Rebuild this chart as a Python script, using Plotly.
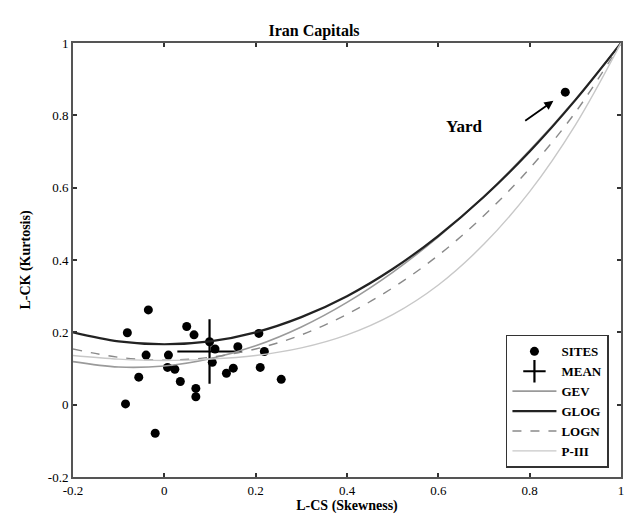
import plotly.graph_objects as go

# ---- data ----
site_cs = [-0.035, -0.081, 0.049, 0.065, 0.099, 0.111, 0.161, 0.207, 0.219, -0.040,
           0.009, 0.105, 0.007, 0.023, -0.056, 0.035, 0.069, 0.069, 0.136, 0.151,
           0.210, 0.256, -0.085, -0.020, 0.878]
site_ck = [0.262, 0.199, 0.216, 0.193, 0.174, 0.154, 0.160, 0.197, 0.147, 0.137,
           0.137, 0.117, 0.103, 0.098, 0.076, 0.064, 0.045, 0.022, 0.087, 0.101,
           0.103, 0.070, 0.002, -0.079, 0.864]
mean_cs = [0.099]
mean_ck = [0.147]

tau3 = [-0.2, -0.1, 0.0, 0.1, 0.2, 0.3, 0.4, 0.5, 0.6, 0.7, 0.8, 0.9, 1.0]
gev = [0.119, 0.104, 0.107, 0.127, 0.163, 0.215, 0.283, 0.366, 0.464, 0.576, 0.703, 0.844, 1.0]
glog = [0.200, 0.175, 0.167, 0.175, 0.200, 0.242, 0.300, 0.375, 0.467, 0.575, 0.700, 0.842, 1.0]
logn = [0.154, 0.131, 0.123, 0.131, 0.154, 0.193, 0.250, 0.323, 0.413, 0.523, 0.653, 0.808, 1.0]
p3 = [0.136, 0.126, 0.122, 0.126, 0.136, 0.157, 0.193, 0.249, 0.331, 0.444, 0.589, 0.773, 1.0]

tick_vals = [-0.2, 0, 0.2, 0.4, 0.6, 0.8, 1]
tick_text = ["-0.2", "0", "0.2", "0.4", "0.6", "0.8", "1"]

FONT = "Liberation Serif"

fig = go.Figure()
fig.add_trace(go.Scatter(x=site_cs, y=site_ck, mode="markers", name="<b>SITES</b>",
                         marker=dict(color="black", size=9, symbol="circle")))
fig.add_trace(go.Scatter(x=mean_cs, y=mean_ck, mode="markers", name="<b>MEAN</b>",
                         marker=dict(color="black", size=46, symbol="cross-thin",
                                     line=dict(color="black", width=2.2))))
fig.add_trace(go.Scatter(x=tau3, y=gev, mode="lines", name="<b>GEV</b>", line_shape="spline",
                         line=dict(color="#9a9a9a", width=1.6)))
fig.add_trace(go.Scatter(x=tau3, y=glog, mode="lines", name="<b>GLOG</b>", line_shape="spline",
                         line=dict(color="#222222", width=2.2)))
fig.add_trace(go.Scatter(x=tau3, y=logn, mode="lines", name="<b>LOGN</b>", line_shape="spline",
                         line=dict(color="#8a8a8a", width=1.4, dash="dash")))
fig.add_trace(go.Scatter(x=tau3, y=p3, mode="lines", name="<b>P-III</b>", line_shape="spline",
                         line=dict(color="#c8c8c8", width=1.4)))

axis_common = dict(
    tickmode="array", tickvals=tick_vals, ticktext=tick_text,
    range=[-0.2, 1], showgrid=False, zeroline=False,
    showline=True, linecolor="#555555", linewidth=2, mirror="ticks",
    ticks="inside", ticklen=4, tickcolor="#333333", tickwidth=1.5,
    tickfont=dict(family=FONT, size=13, color="black"),
)

fig.update_layout(
    width=628, height=522,
    margin=dict(l=73, r=4, t=43, b=45),
    paper_bgcolor="white", plot_bgcolor="white",
    font=dict(family=FONT, color="black"),
    title=dict(text="<b>Iran Capitals</b>", x=0.5, xanchor="center",
               y=1 - 30 / 522, yanchor="middle",
               font=dict(family=FONT, size=16, color="black")),
    xaxis=dict(**axis_common,
               title=dict(text="<b>L-CS (Skewness)</b>", standoff=4,
                          font=dict(family=FONT, size=14))),
    yaxis=dict(**axis_common,
               title=dict(text="<b>L-CK (Kurtosis)</b>", standoff=14,
                          font=dict(family=FONT, size=14))),
    showlegend=True,
    legend=dict(x=0.978, xanchor="right", y=0.021, yanchor="bottom",
                bordercolor="#333333", borderwidth=1.5, bgcolor="white",
                font=dict(family=FONT, size=13, color="black"),
                tracegroupgap=0, itemwidth=44),
)

fig.add_annotation(x=0.657, y=0.770, xref="x", yref="y", text="<b>Yard</b>",
                   showarrow=False, font=dict(family=FONT, size=17, color="black"))
fig.add_annotation(x=0.852, y=0.840, ax=0.787, ay=0.782, xref="x", yref="y",
                   axref="x", ayref="y", text="", showarrow=True,
                   arrowhead=2, arrowsize=1, arrowwidth=1.8, arrowcolor="black")

fig.write_html("out.html", config={"displayModeBar": False},
               post_script="document.body.style.margin='0';document.body.style.overflow='hidden';")
